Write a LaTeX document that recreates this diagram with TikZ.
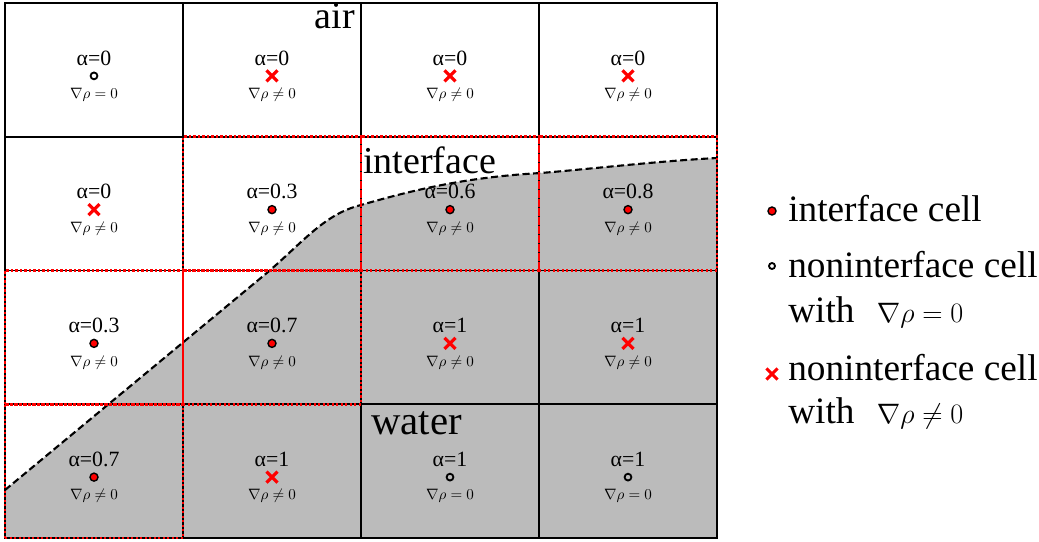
\RequirePackage{fix-cm}
\documentclass[tikz,border=0pt]{standalone}
\usepackage{fontspec}
\setmainfont{Liberation Serif}
\usepackage{tikz}
\usetikzlibrary{calc,positioning,shapes.misc}
\definecolor{WaterGray}{HTML}{BBBBBB}
\definecolor{MarkRed}{HTML}{FF0000}

\begin{document}
\begin{tikzpicture}[x=0.025cm, y=-0.025cm,
				cell/.style={draw=black, line width=1.3pt, minimum width=4.45cm, minimum height=3.34cm,
					inner sep=0pt, outer sep=0pt},
				ifaceline/.style={draw=MarkRed, line width=2pt, dash pattern=on 1.6pt off 1.6pt},
				ifacemark/.style={circle, draw=black, fill=MarkRed, line width=1pt, minimum size=0.2cm, inner sep=0pt},
				openmark/.style={circle, draw=black, line width=1.3pt, minimum size=0.17cm, inner sep=0pt},
				crossmark/.style={cross out, draw=MarkRed, line width=2.2pt, minimum size=0.2cm, inner sep=0pt},
				alphalbl/.style={font=\fontsize{15.5}{18}\selectfont, inner sep=0pt},
				gradlbl/.style={font=\fontsize{10.7}{13}\selectfont, inner sep=0pt},
				phaselbl/.style={font=\fontsize{27}{32}\selectfont, inner sep=0pt},
				legendlbl/.style={font=\fontsize{26.5}{32}\selectfont, inner sep=0pt, anchor=base west}
				]
				\useasboundingbox (0,0) rectangle (1039,541);
				% water region under the interface
				\fill[WaterGray] (5,490) -- (268,272) .. controls (305,240) and (325,214) .. (361,205)
					.. controls (420,188) and (470,177) .. (541,173)
					.. controls (600,168) and (660,161) .. (717,158) -- (717,538) -- (5,538) -- cycle;
				\draw[line width=1.5pt, dash pattern=on 5pt off 2.5pt] (5,490) -- (268,272)
					.. controls (305,240) and (325,214) .. (361,205)
					.. controls (420,188) and (470,177) .. (541,173)
					.. controls (600,168) and (660,161) .. (717,158);
				% cells
				\foreach \r/\c/\a/\m/\g in {1/1/0/openmark/=, 1/2/0/crossmark/\neq, 1/3/0/crossmark/\neq, 1/4/0/crossmark/\neq,
					2/1/0/crossmark/\neq, 2/2/0.3/ifacemark/\neq, 2/3/0.6/ifacemark/\neq, 2/4/0.8/ifacemark/\neq,
					3/1/0.3/ifacemark/\neq, 3/2/0.7/ifacemark/\neq, 3/3/1/crossmark/\neq, 3/4/1/crossmark/\neq,
					4/1/0.7/ifacemark/\neq, 4/2/1/crossmark/\neq, 4/3/1/openmark/=, 4/4/1/openmark/=} {
					\node[cell] (c\r\c) at ({5+178*(\c-0.5)}, {3+133.75*(\r-0.5)}) {};
				}
				\foreach \k in {22,23,24,31,32,41}
					\draw[ifaceline] (c\k.south west) rectangle (c\k.north east);
				\foreach \r/\c/\a/\m/\g in {1/1/0/openmark/=, 1/2/0/crossmark/\neq, 1/3/0/crossmark/\neq, 1/4/0/crossmark/\neq,
					2/1/0/crossmark/\neq, 2/2/0.3/ifacemark/\neq, 2/3/0.6/ifacemark/\neq, 2/4/0.8/ifacemark/\neq,
					3/1/0.3/ifacemark/\neq, 3/2/0.7/ifacemark/\neq, 3/3/1/crossmark/\neq, 3/4/1/crossmark/\neq,
					4/1/0.7/ifacemark/\neq, 4/2/1/crossmark/\neq, 4/3/1/openmark/=, 4/4/1/openmark/=} {
					\node[\m] (m\r\c) at ($(c\r\c.center)+(0,6)$) {};
					\node[alphalbl] (a\r\c) at ($(m\r\c)+(0,-18)$) {α=\a};
					\node[gradlbl] (g\r\c) at ($(m\r\c)+(0,19)$) {$\nabla\rho \g 0$};
				}
				% phase labels
				\node[phaselbl, anchor=base east] (air) at (355,28) {air};
				\node[phaselbl, anchor=base west] (iface) at (363,173) {interface};
				\node[phaselbl, anchor=base west, font=\fontsize{29}{34}\selectfont] (water) at (371,434) {water};
				% legend
				\node[ifacemark] (lgiface) at (772,211) {};
				\node[legendlbl] (lgifacetxt) at (788,221) {interface cell};
				\node[openmark, minimum size=0.15cm] (lgopen) at (772,266) {};
				\node[legendlbl] (lgopentxt) at (788,277) {noninterface cell};
				\node[legendlbl] (lgopenwith) at (788,322) {with\hspace{0.6em}{\fontsize{20}{24}\selectfont$\nabla\rho = 0$}};
				\node[crossmark] (lgcross) at (772,374) {};
				\node[legendlbl] (lgcrosstxt) at (788,380) {noninterface cell};
				\node[legendlbl] (lgcrosswith) at (788,423) {with\hspace{0.6em}{\fontsize{20}{24}\selectfont$\nabla\rho \neq 0$}};
			\end{tikzpicture}
\end{document}
